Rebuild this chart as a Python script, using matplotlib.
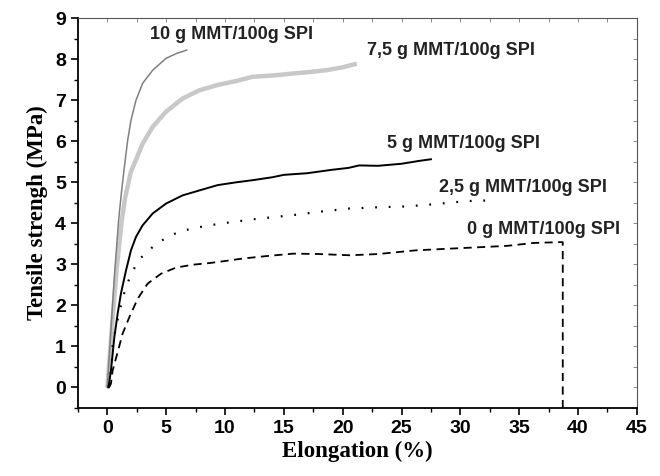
import matplotlib
matplotlib.use("Agg")
import matplotlib.pyplot as plt
from matplotlib.ticker import MultipleLocator

# 10 g MMT / 100 g SPI
x10 = [0, 0.3, 0.6, 0.96, 1.2, 1.45, 1.73, 2.01, 2.44, 3.0, 3.86, 4.99, 5.9, 6.75]
y10 = [0, 1.35, 2.7, 4.07, 4.75, 5.37, 6.02, 6.51, 7.0, 7.41, 7.73, 8.02, 8.14, 8.22]

# 7,5 g
x75 = [0, 0.4, 0.8, 1.2, 1.5, 2.0, 2.44, 3.0, 3.86, 4.99, 6.4, 7.82, 9.38, 11.0,
       12.35, 14.0, 15.8, 17.0, 18.6, 20.0, 21.2]
y75 = [0, 1.5, 2.9, 4.0, 4.6, 5.25, 5.55, 5.94, 6.35, 6.72, 7.04, 7.24, 7.37, 7.47,
       7.57, 7.6, 7.65, 7.68, 7.73, 7.8, 7.89]

# 5 g
x5 = [0.1, 0.31, 0.6, 0.88, 1.16, 1.59, 2.01, 2.44, 3.0, 3.86, 4.99, 6.4, 7.82, 9.38,
      11.0, 12.35, 14.0, 15.0, 17.0, 19.0, 20.5, 21.4, 23.0, 25.0, 26.5, 27.5]
y5 = [0, 0.41, 1.23, 1.8, 2.29, 2.85, 3.34, 3.67, 3.95, 4.24, 4.48, 4.68, 4.8, 4.93,
      5.0, 5.05, 5.12, 5.18, 5.22, 5.3, 5.35, 5.41, 5.4, 5.45, 5.52, 5.56]

# 2,5 g
x25 = [0.1, 0.31, 0.4, 0.45, 0.68, 0.96, 1.25, 1.64, 2.15, 2.86, 4.0, 5.13, 6.27, 7.54,
       8.67, 10.1, 12.5, 15.8, 18.0, 20.6, 23.0, 25.4, 28.0, 30.5, 32.8]
y25 = [0, 0.41, 0.7, 1.0, 1.39, 1.76, 2.12, 2.49, 2.84, 3.16, 3.46, 3.67, 3.81, 3.89,
       3.95, 4.01, 4.1, 4.2, 4.28, 4.36, 4.39, 4.41, 4.47, 4.54, 4.56]

# 0 g
x0 = [0.15, 0.31, 0.45, 0.88, 1.3, 1.87, 2.58, 3.43, 4.56, 5.84, 7.26, 8.67, 10.0, 11.5,
      13.5, 15.8, 18.0, 20.6, 23.0, 26.2, 29.0, 31.9, 34.0, 36.2, 38.4, 38.7, 38.7]
y0 = [0, 0.09, 0.41, 0.86, 1.31, 1.71, 2.16, 2.53, 2.77, 2.92, 2.99, 3.03, 3.08, 3.14,
      3.2, 3.26, 3.25, 3.22, 3.25, 3.34, 3.38, 3.42, 3.45, 3.52, 3.54, 3.54, -0.5]

labels = ["10 g MMT/100g SPI", "7,5 g MMT/100g SPI", "5 g MMT/100g SPI",
          "2,5 g MMT/100g SPI", "0 g MMT/100g SPI"]
label_pos = [(3.6, 8.6), (22.1, 8.22), (23.8, 5.95), (28.2, 4.88), (30.6, 3.85)]

fig = plt.figure(figsize=(6.6, 4.76), dpi=100, facecolor="white")
ax = fig.add_axes([0.118, 0.143, 0.847, 0.819])

ax.plot(x75, y75, color="#c8c8c8", lw=3.2, solid_capstyle="butt")
ax.plot(x10, y10, color="#808080", lw=1.1)
ax.plot(x5, y5, color="black", lw=1.4)
ax.plot(x25, y25, color="black", lw=1.6, linestyle=(0, (0.8, 5.3)))
ax.plot(x0, y0, color="black", lw=1.3, linestyle=(0, (4.5, 3)))

for t, (lx, ly) in zip(labels, label_pos):
    ax.text(lx, ly, t, fontsize=13, fontweight="bold", family="Liberation Sans",
            color="#222222", va="center", ha="left")

ax.set_xlim(-2.5, 45)
ax.set_ylim(-0.5, 9)
ax.xaxis.set_major_locator(MultipleLocator(5))
ax.xaxis.set_minor_locator(MultipleLocator(2.5))
ax.yaxis.set_major_locator(MultipleLocator(1))
ax.yaxis.set_minor_locator(MultipleLocator(0.5))
ax.tick_params(which="major", direction="out", length=5, width=1.2, labelsize=14)
ax.tick_params(which="minor", direction="out", length=3, width=1.0)
for lab in ax.get_xticklabels() + ax.get_yticklabels():
    lab.set_fontweight("bold")
    lab.set_family("Liberation Sans")

# inward ticks on top and right
for side in ("top", "right"):
    ax.spines[side].set_color("#555555")
    ax.spines[side].set_linewidth(0.8)
sec_x = ax.secondary_xaxis("top")
sec_x.xaxis.set_major_locator(MultipleLocator(2.5))
sec_x.tick_params(direction="in", length=3, width=0.6, colors="#777777", labeltop=False)
sec_y = ax.secondary_yaxis("right")
sec_y.yaxis.set_major_locator(MultipleLocator(0.5))
sec_y.tick_params(direction="in", length=3, width=0.6, colors="#777777", labelright=False)
sec_x.spines["top"].set_visible(False)
sec_y.spines["right"].set_visible(False)

for side in ("left", "bottom"):
    ax.spines[side].set_linewidth(1.3)

ax.set_xlabel("Elongation (%)", fontsize=16.5, fontweight="bold", family="Liberation Serif", labelpad=3)
ax.set_ylabel("Tensile strengh (MPa)", fontsize=16.5, fontweight="bold", family="Liberation Serif", labelpad=5)

fig.savefig("out.png", dpi=100, facecolor="white")
